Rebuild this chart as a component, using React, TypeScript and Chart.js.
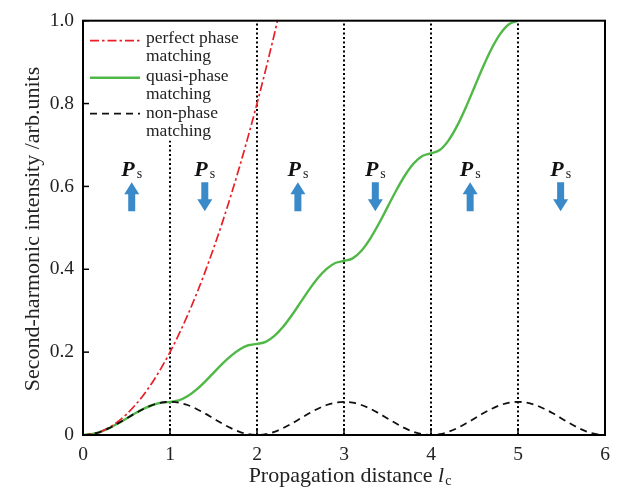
import { useEffect, useRef } from "react";
import { Chart, registerables } from "chart.js";

Chart.register(...registerables);

// ---------- data ----------
const xSteps = [
  0, 0.1, 0.2, 0.3, 0.4, 0.5, 0.6, 0.7, 0.8, 0.9, 1.0,
  1.1, 1.2, 1.3, 1.4, 1.5, 1.6, 1.7, 1.8, 1.9, 2.0,
  2.1, 2.2, 2.3, 2.4, 2.5, 2.6, 2.7, 2.8, 2.9, 3.0,
  3.1, 3.2, 3.3, 3.4, 3.5, 3.6, 3.7, 3.8, 3.9, 4.0,
  4.1, 4.2, 4.3, 4.4, 4.5, 4.6, 4.7, 4.8, 4.9, 5.0,
  5.1, 5.2, 5.3, 5.4, 5.5, 5.6, 5.7, 5.8, 5.9, 6.0,
];

const xPerfect = [
  0, 0.1, 0.2, 0.3, 0.4, 0.5, 0.6, 0.7, 0.8, 0.9, 1.0,
  1.1, 1.2, 1.3, 1.4, 1.5, 1.6, 1.7, 1.8, 1.9, 2.0,
  2.1, 2.2, 2.236,
];
const yPerfect = [
  0, 0.002, 0.008, 0.018, 0.032, 0.05, 0.072, 0.098, 0.128, 0.162, 0.2,
  0.242, 0.288, 0.338, 0.392, 0.45, 0.512, 0.578, 0.648, 0.722, 0.8,
  0.882, 0.968, 1.0,
];

const yQuasi = [
  0, 0.002, 0.0076, 0.0165, 0.0276, 0.04, 0.0524, 0.0635, 0.0724, 0.078, 0.08,
  0.0834, 0.0934, 0.1089, 0.1284, 0.15, 0.1716, 0.1911, 0.2066, 0.2166, 0.22,
  0.2249, 0.2391, 0.2612, 0.2891, 0.32, 0.3509, 0.3788, 0.4009, 0.4151, 0.42,
  0.4264, 0.4448, 0.4736, 0.5098, 0.55, 0.5902, 0.6264, 0.6552, 0.6736, 0.68,
  0.6878, 0.7106, 0.746, 0.7906, 0.84, 0.8894, 0.934, 0.9694, 0.9922, 1.0,
];

const yNon = [
  0, 0.002, 0.0076, 0.0165, 0.0276, 0.04, 0.0524, 0.0635, 0.0724, 0.078, 0.08,
  0.078, 0.0724, 0.0635, 0.0524, 0.04, 0.0276, 0.0165, 0.0076, 0.002, 0,
  0.002, 0.0076, 0.0165, 0.0276, 0.04, 0.0524, 0.0635, 0.0724, 0.078, 0.08,
  0.078, 0.0724, 0.0635, 0.0524, 0.04, 0.0276, 0.0165, 0.0076, 0.002, 0,
  0.002, 0.0076, 0.0165, 0.0276, 0.04, 0.0524, 0.0635, 0.0724, 0.078, 0.08,
  0.078, 0.0724, 0.0635, 0.0524, 0.04, 0.0276, 0.0165, 0.0076, 0.002, 0,
];

const dividerX = [1, 2, 3, 4, 5];
const dividerTop = [0.71, 1, 1, 1, 1];

const arrowX = [0.56, 1.4, 2.47, 3.36, 4.45, 5.49];
const arrowDir = ["up", "down", "up", "down", "up", "down"];
const arrowBottom = 0.54;
const arrowTop = 0.61;
const psLabelY = 0.625;

const xTicks = [0, 1, 2, 3, 4, 5, 6];
const yTicks = [0, 0.2, 0.4, 0.6, 0.8, 1.0];
const yTickLabels = ["0", "0.2", "0.4", "0.6", "0.8", "1.0"];

const legendLabels = [
  ["perfect phase", "matching"],
  ["quasi-phase", "matching"],
  ["non-phase", "matching"],
];

const xTitle = "Propagation distance ";
const yTitle = "Second-harmonic intensity /arb.units";

// ---------- styles ----------
const RED = "#ea1f26";
const GREEN = "#4fb846";
const BLACK = "#111111";
const BLUE = "#3a89c9";
const TEXT = "#222222";
const SERIF = "'Liberation Serif', 'Times New Roman', serif";
const RED_DASH = [9, 3, 2.5, 3];
const BLACK_DASH = [7, 5];

const zip = (xs: number[], ys: number[]) => ys.map((y, i) => ({ x: xs[i], y }));

const decorPlugin = {
  id: "decor",
  afterDatasetsDraw(chart: any) {
    const { ctx, chartArea, scales } = chart;
    const xs = scales.x;
    const ys = scales.y;
    const { left, right, top, bottom } = chartArea;
    ctx.save();

    // frame
    ctx.strokeStyle = "#000";
    ctx.lineWidth = 2;
    ctx.setLineDash([]);
    ctx.strokeRect(left, top, right - left, bottom - top);

    // inward ticks
    ctx.lineWidth = 1.5;
    yTicks.forEach((v) => {
      const py = ys.getPixelForValue(v);
      ctx.beginPath();
      ctx.moveTo(left, py);
      ctx.lineTo(left + 6, py);
      ctx.stroke();
    });
    xTicks.forEach((v) => {
      const px = xs.getPixelForValue(v);
      ctx.beginPath();
      ctx.moveTo(px, bottom);
      ctx.lineTo(px, bottom - 7);
      ctx.stroke();
    });

    // polarization arrows + labels
    arrowX.forEach((xv, i) => {
      const cx = xs.getPixelForValue(xv);
      const yt = ys.getPixelForValue(arrowTop);
      const yb = ys.getPixelForValue(arrowBottom);
      const headH = 12;
      const headW = 7.5;
      const shaftW = 3.5;
      ctx.fillStyle = BLUE;
      ctx.beginPath();
      if (arrowDir[i] === "up") {
        ctx.moveTo(cx, yt);
        ctx.lineTo(cx + headW, yt + headH);
        ctx.lineTo(cx + shaftW, yt + headH);
        ctx.lineTo(cx + shaftW, yb);
        ctx.lineTo(cx - shaftW, yb);
        ctx.lineTo(cx - shaftW, yt + headH);
        ctx.lineTo(cx - headW, yt + headH);
      } else {
        ctx.moveTo(cx, yb);
        ctx.lineTo(cx + headW, yb - headH);
        ctx.lineTo(cx + shaftW, yb - headH);
        ctx.lineTo(cx + shaftW, yt);
        ctx.lineTo(cx - shaftW, yt);
        ctx.lineTo(cx - shaftW, yb - headH);
        ctx.lineTo(cx - headW, yb - headH);
      }
      ctx.closePath();
      ctx.fill();

      const ly = ys.getPixelForValue(psLabelY);
      ctx.font = `bold italic 22px ${SERIF}`;
      const wP = ctx.measureText("P").width;
      ctx.font = `14px ${SERIF}`;
      const wS = ctx.measureText("s").width;
      const start = cx - (wP + 2 + wS) / 2;
      ctx.textAlign = "left";
      ctx.textBaseline = "alphabetic";
      ctx.fillStyle = "#111";
      ctx.font = `bold italic 22px ${SERIF}`;
      ctx.fillText("P", start, ly);
      ctx.font = `14px ${SERIF}`;
      ctx.fillStyle = TEXT;
      ctx.fillText("s", start + wP + 2, ly + 1.5);
    });

    // legend
    const entries = [
      { color: RED, dash: RED_DASH, width: 1.7 },
      { color: GREEN, dash: [], width: 2.4 },
      { color: BLACK, dash: BLACK_DASH, width: 1.8 },
    ];
    const baselines = [[22, 40], [60, 78], [97, 115]];
    const sampleY = [20, 57, 93];
    entries.forEach((e, i) => {
      ctx.strokeStyle = e.color;
      ctx.lineWidth = e.width;
      ctx.setLineDash(e.dash);
      ctx.beginPath();
      ctx.moveTo(left + 7, top + sampleY[i]);
      ctx.lineTo(left + 57, top + sampleY[i]);
      ctx.stroke();
      ctx.setLineDash([]);
      ctx.fillStyle = TEXT;
      ctx.font = `17.5px ${SERIF}`;
      ctx.textAlign = "left";
      ctx.textBaseline = "alphabetic";
      legendLabels[i].forEach((line, j) => {
        ctx.fillText(line, left + 63, top + baselines[i][j]);
      });
    });

    ctx.restore();
  },
  afterDraw(chart: any) {
    const { ctx } = chart;
    ctx.save();
    ctx.fillStyle = TEXT;
    ctx.textBaseline = "alphabetic";
    // x title
    ctx.font = `22px ${SERIF}`;
    const w1 = ctx.measureText(xTitle).width;
    ctx.font = `italic 22px ${SERIF}`;
    const w2 = ctx.measureText("l").width;
    ctx.font = `14px ${SERIF}`;
    const w3 = ctx.measureText("c").width;
    const total = w1 + w2 + 1 + w3;
    let sx = 350 - total / 2;
    ctx.textAlign = "left";
    ctx.font = `22px ${SERIF}`;
    ctx.fillText(xTitle, sx, 482);
    sx += w1;
    ctx.font = `italic 22px ${SERIF}`;
    ctx.fillText("l", sx, 482);
    sx += w2 + 1;
    ctx.font = `14px ${SERIF}`;
    ctx.fillText("c", sx, 485);

    // y title
    ctx.translate(39, 229);
    ctx.rotate(-Math.PI / 2);
    ctx.textAlign = "center";
    ctx.font = `22px ${SERIF}`;
    ctx.fillText(yTitle, 0, 0);
    ctx.restore();
  },
};

export default function App() {
  const ref = useRef<HTMLCanvasElement | null>(null);

  useEffect(() => {
    document.body.style.margin = "0";
    const canvas = ref.current;
    if (!canvas) return;

    const dividerSets = dividerX.map((xv, i) => ({
      label: `divider${i}`,
      data: [
        { x: xv, y: 0 },
        { x: xv, y: dividerTop[i] },
      ],
      borderColor: "#000",
      borderWidth: 2,
      borderDash: [2, 2.5],
      borderCapStyle: "butt",
      pointRadius: 0,
      fill: false,
      order: 4,
    }));

    const chart = new Chart(canvas, {
      type: "line",
      data: {
        datasets: [
          {
            label: "non-phase matching",
            data: zip(xSteps, yNon),
            borderColor: BLACK,
            borderWidth: 1.8,
            borderDash: BLACK_DASH,
            pointRadius: 0,
            cubicInterpolationMode: "monotone",
            fill: false,
            order: 0,
          },
          {
            label: "perfect phase matching",
            data: zip(xPerfect, yPerfect),
            borderColor: RED,
            borderWidth: 1.7,
            borderDash: RED_DASH,
            pointRadius: 0,
            cubicInterpolationMode: "monotone",
            fill: false,
            order: 1,
          },
          {
            label: "quasi-phase matching",
            data: zip(xSteps.slice(0, yQuasi.length), yQuasi),
            borderColor: GREEN,
            borderWidth: 2.4,
            pointRadius: 0,
            cubicInterpolationMode: "monotone",
            fill: false,
            order: 2,
          },
          ...dividerSets,
        ] as any,
      },
      options: {
        animation: false,
        responsive: false,
        layout: { padding: { top: 13, right: 14, left: 0, bottom: 0 } },
        plugins: {
          legend: { display: false },
          tooltip: { enabled: false },
          title: { display: false },
        },
        scales: {
          x: {
            type: "linear",
            min: 0,
            max: 6,
            afterFit: (s: any) => {
              s.height = 56;
            },
            afterBuildTicks: (s: any) => {
              s.ticks = xTicks.map((v) => ({ value: v }));
            },
            grid: { display: false, drawTicks: false },
            border: { display: false },
            ticks: {
              padding: 8,
              color: TEXT,
              font: { family: SERIF, size: 19.5 },
              callback: (v: any) => String(v),
            },
          },
          y: {
            type: "linear",
            min: 0,
            max: 1,
            afterFit: (s: any) => {
              s.width = 83;
            },
            afterBuildTicks: (s: any) => {
              s.ticks = yTicks.map((v) => ({ value: v }));
            },
            grid: { display: false, drawTicks: false },
            border: { display: false },
            ticks: {
              padding: 9,
              color: TEXT,
              font: { family: SERIF, size: 19.5 },
              callback: (v: any) => {
                const idx = yTicks.findIndex((t) => Math.abs(t - Number(v)) < 1e-6);
                return idx >= 0 ? yTickLabels[idx] : "";
              },
            },
          },
        },
      },
      plugins: [decorPlugin],
    } as any);

    return () => chart.destroy();
  }, []);

  return (
    <div style={{ width: 619, height: 491, background: "#fff" }}>
      <canvas ref={ref} width={619} height={491} style={{ display: "block" }} />
    </div>
  );
}
